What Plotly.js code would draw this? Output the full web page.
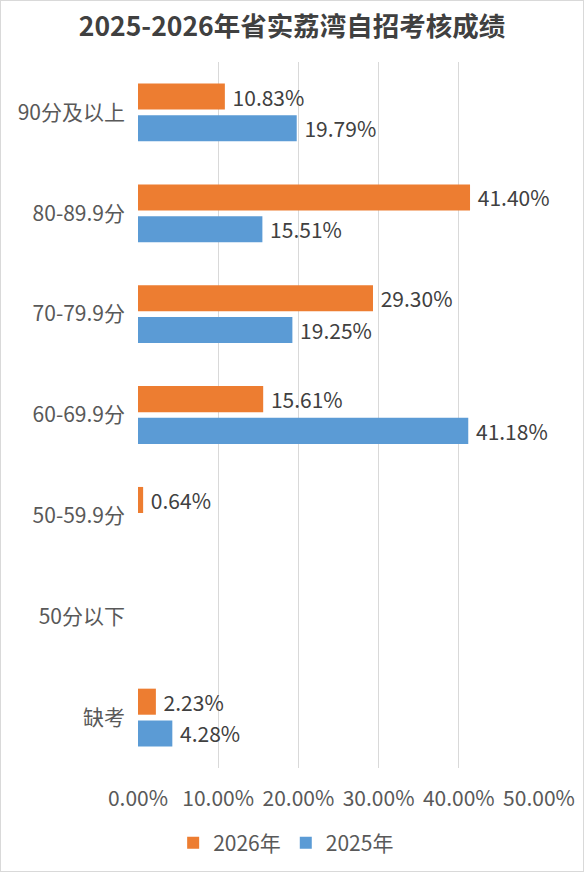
<!DOCTYPE html>
<html>
<head>
<meta charset="utf-8">
<script src="https://cdn.plot.ly/plotly-3.0.1.min.js"></script>
<style>
html,body{margin:0;padding:0;background:#fff;}
#wrap{position:relative;width:584px;height:872px;}
#chart{width:584px;height:872px;}
#frame{position:absolute;left:0;top:0;width:584px;height:872px;box-sizing:border-box;border:1px solid #d9d9d9;pointer-events:none;}
</style>
</head>
<body>
<div id="wrap"><div id="chart"></div><div id="frame"></div></div>
<script>
const categories = ['90分及以上', '80-89.9分', '70-79.9分', '60-69.9分', '50-59.9分', '50分以下', '缺考'];
const values2026 = [10.83, 41.40, 29.30, 15.61, 0.64, null, 2.23];
const values2025 = [19.79, 15.51, 19.25, 41.18, null, null, 4.28];
const xTicks = [0, 10, 20, 30, 40, 50];
const xTickLabels = ['0.00%', '10.00%', '20.00%', '30.00%', '40.00%', '50.00%'];

const font = '"Noto Sans CJK SC", "Noto Sans", sans-serif';
function labels(arr){ return arr.map(v => v == null ? '' : ' ' + v.toFixed(2) + '%'); }

const traces = [
  {
    type: 'bar', orientation: 'h', name: '2026年',
    y: categories, x: values2026,
    marker: {color: '#ED7D31'},
    text: labels(values2026), textposition: 'outside', cliponaxis: false,
    constraintext: 'none',
    textfont: {family: font, size: 21, color: '#404040'},
    hoverinfo: 'x+y'
  },
  {
    type: 'bar', orientation: 'h', name: '2025年',
    y: categories, x: values2025,
    marker: {color: '#5B9BD5'},
    text: labels(values2025), textposition: 'outside', cliponaxis: false,
    constraintext: 'none',
    textfont: {family: font, size: 21, color: '#404040'},
    hoverinfo: 'x+y'
  }
];

const layout = {
  width: 584, height: 872,
  margin: {l: 138, r: 45, t: 62, b: 104},
  paper_bgcolor: '#ffffff', plot_bgcolor: '#ffffff',
  font: {family: font, color: '#595959'},
  title: {
    text: '<b>2025-2026年省实荔湾自招考核成绩</b>',
    font: {family: font, size: 26.5, color: '#404040'},
    x: 0.5, xanchor: 'center', xref: 'container',
    y: 1 - 27/872, yanchor: 'middle', yref: 'container'
  },
  barmode: 'group', bargap: 0.37, bargroupgap: 0.18,
  xaxis: {
    range: [0, 50], tickvals: xTicks, ticktext: xTickLabels,
    showgrid: true, gridcolor: '#d9d9d9', gridwidth: 1,
    zeroline: false, showline: false, ticks: '',
    tickfont: {family: font, size: 21, color: '#595959'},
    ticklabelstandoff: 16, fixedrange: true
  },
  yaxis: {
    type: 'category', autorange: 'reversed',
    showgrid: false, zeroline: false, showline: false, ticks: '',
    tickfont: {family: font, size: 21, color: '#595959'},
    ticklabelstandoff: 12, fixedrange: true
  },
  showlegend: true,
  legend: {
    orientation: 'h', x: 0.49, xanchor: 'center', xref: 'container',
    y: 1 - 843/872, yanchor: 'middle', yref: 'container',
    font: {family: font, size: 21, color: '#595959'},
    itemwidth: 30, traceorder: 'normal'
  }
};

Plotly.newPlot('chart', traces, layout, {displayModeBar: false, staticPlot: true});
</script>
</body>
</html>
